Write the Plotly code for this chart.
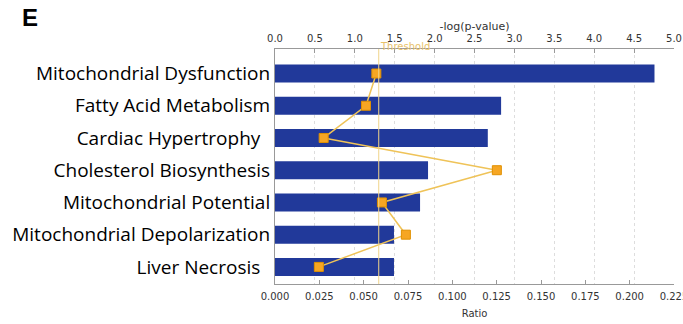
import plotly.graph_objects as go

categories = [
    "Mitochondrial Dysfunction",
    "Fatty Acid Metabolism",
    "Cardiac Hypertrophy\u00a0\u00a0",
    "Cholesterol Biosynthesis",
    "Mitochondrial Potential",
    "Mitochondrial Depolarization",
    "Liver Necrosis\u00a0\u00a0",
]
ratio = [0.214, 0.1275, 0.120, 0.0863, 0.0818, 0.0671, 0.0671]
neg_log_p = [1.27, 1.14, 0.61, 2.78, 1.34, 1.64, 0.55]
threshold = 1.3

ratio_ticks = [i * 0.025 for i in range(10)]
logp_ticks = [i * 0.5 for i in range(11)]

fig = go.Figure()
fig.add_trace(go.Bar(
    y=categories, x=ratio, orientation="h",
    marker=dict(color="#21399a", line=dict(width=0)),
    width=0.56, xaxis="x", yaxis="y", showlegend=False,
))
fig.add_trace(go.Scatter(
    y=categories, x=neg_log_p, mode="lines+markers",
    line=dict(color="#efc358", width=1.5),
    marker=dict(symbol="square", size=9, color="#f6a623",
                line=dict(color="#e09000", width=1)),
    xaxis="x2", yaxis="y", showlegend=False,
))

fig.add_shape(type="line", xref="x2", yref="paper", x0=threshold, x1=threshold,
              y0=0, y1=1, line=dict(color="#f0d48a", width=1), layer="above")
fig.add_annotation(text="Threshold", xref="x2", yref="paper", x=threshold, y=1,
                   xanchor="left", yanchor="bottom", yshift=-5, xshift=-1,
                   showarrow=False, font=dict(family="DejaVu Sans", size=10, color="#e9c26a"))
fig.add_annotation(text="<b>E</b>", xref="paper", yref="paper", x=-0.64, y=1.2,
                   xanchor="left", yanchor="top", showarrow=False,
                   font=dict(family="Liberation Sans", size=24, color="#000"))

tickfont = dict(family="DejaVu Sans", size=10, color="#333")
fig.update_layout(
    width=683, height=324,
    margin=dict(l=275, r=9, t=49, b=40),
    paper_bgcolor="white", plot_bgcolor="white",
    xaxis=dict(range=[0, 0.225], tickvals=ratio_ticks, tickformat=".3f",
               ticks="inside", ticklen=4, tickcolor="#999", showline=True,
               linecolor="#999", linewidth=1, showgrid=False, zeroline=False,
               tickfont=tickfont, automargin=False, ticklabelstandoff=3,
               ticklabeloverflow="allow",
               title=dict(text="Ratio", font=dict(family="DejaVu Sans", size=10, color="#333"), standoff=8)),
    xaxis2=dict(range=[0, 5], tickvals=logp_ticks, tickformat=".1f", overlaying="x",
                side="top", ticks="inside", ticklen=4, tickcolor="#999", showline=True,
                linecolor="#999", linewidth=1, showgrid=True, gridcolor="#dddddd",
                griddash="dot", gridwidth=1, zeroline=False, tickfont=tickfont,
                automargin=False, ticklabelstandoff=2, ticklabeloverflow="allow",
                title=dict(text="-log(p-value)", font=dict(family="DejaVu Sans", size=11, color="#333"), standoff=0)),
    yaxis=dict(categoryorder="array", categoryarray=categories, range=[6.53, -0.76],
               showline=True, linecolor="#999", linewidth=1, ticks="", showgrid=False,
               automargin=False,
               tickfont=dict(family="Open Sans", size=19, color="#000")),
)

fig.write_html("out.html", config={"displayModeBar": False},
               post_script="document.body.style.margin='0';")
